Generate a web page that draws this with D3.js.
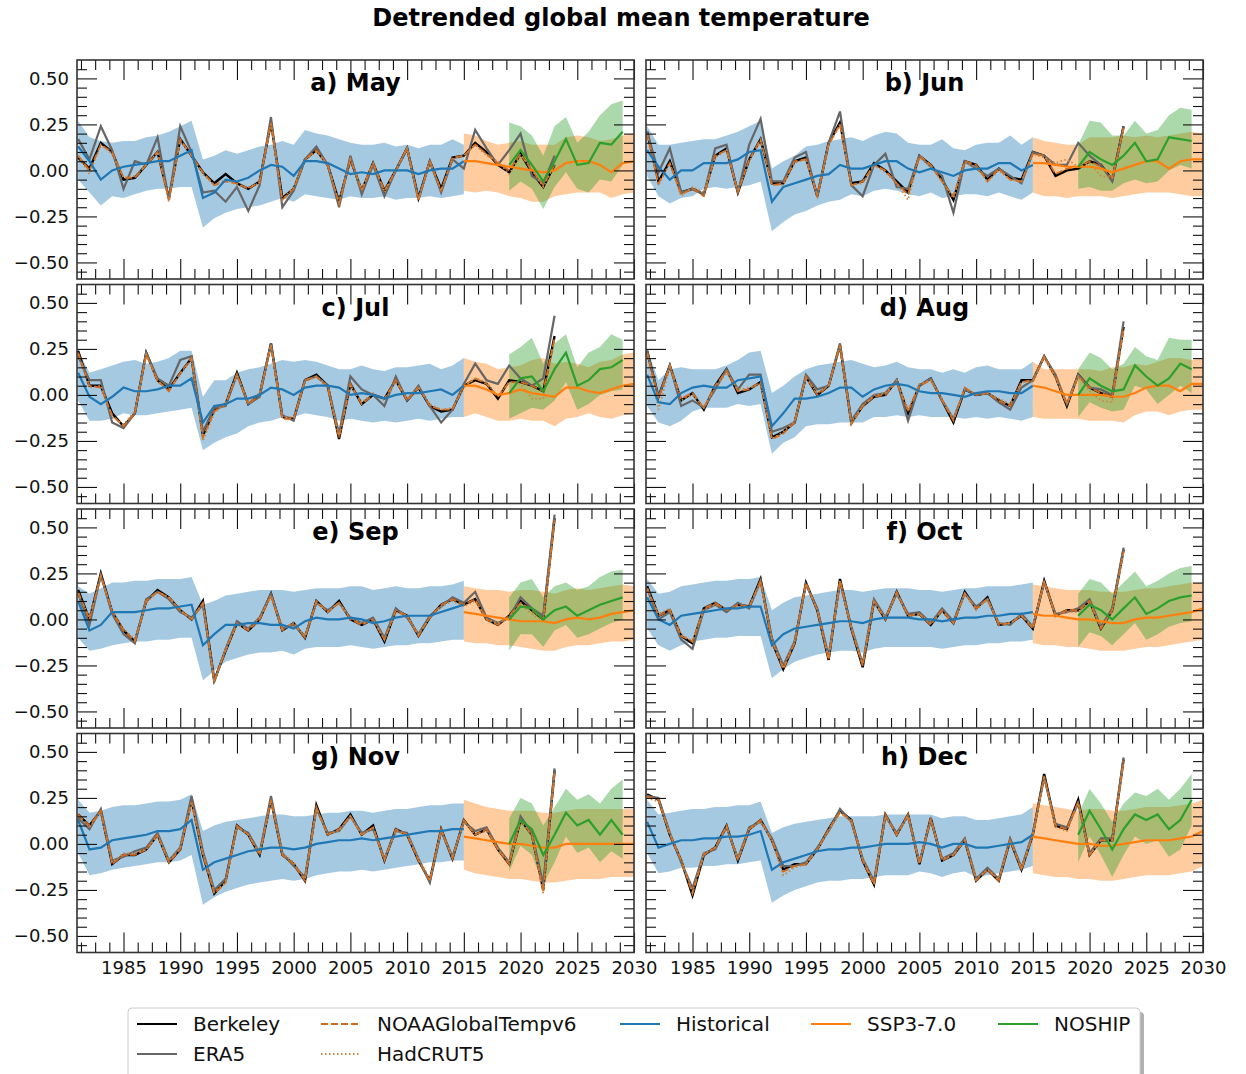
<!DOCTYPE html>
<html>
<head>
<meta charset="utf-8">
<script src="https://cdn.jsdelivr.net/npm/d3@7"></script>
<style>
  body { margin: 0; background: #fff; }
  svg text { font-family: "DejaVu Sans", sans-serif; }
</style>
</head>
<body>
<div id="chart"></div>
<script>
// ---------- data ----------
const panelLabels = ["a) May", "b) Jun", "c) Jul", "d) Aug", "e) Sep", "f) Oct", "g) Nov", "h) Dec"];

const obsYears = d3.range(1981, 2024);      // observations
const histYears = d3.range(1981, 2016);     // historical ensemble
const sspYears = d3.range(2015, 2031);      // SSP3-7.0 ensemble
const noshipYears = d3.range(2019, 2030);   // NOSHIP ensemble

const xMajorTicks = d3.range(1985, 2031, 5);
const yMajorTicks = [-0.5, -0.25, 0, 0.25, 0.5];

const legendLabels = ["Berkeley", "ERA5", "NOAAGlobalTempv6", "HadCRUT5", "Historical", "SSP3-7.0", "NOSHIP"];

const berkeley = [
  [0.07,0.01,0.15,0.10,-0.05,-0.04,0.03,0.10,-0.15,0.17,0.08,-0.01,-0.07,-0.02,-0.07,-0.10,-0.06,0.26,-0.15,-0.10,0.06,0.11,0.03,-0.17,0.06,-0.11,0.04,-0.11,0.00,0.12,-0.15,0.05,-0.10,0.07,0.08,0.15,0.10,0.03,-0.01,0.09,-0.01,-0.09,0.03],
  [0.21,-0.06,0.05,-0.12,-0.10,-0.13,0.08,0.12,-0.12,0.06,0.17,-0.07,-0.07,0.05,0.07,-0.14,0.15,0.26,-0.07,-0.06,0.04,0.00,-0.06,-0.12,0.08,0.03,-0.05,-0.16,0.05,0.03,-0.05,0.01,-0.04,-0.05,0.10,0.08,-0.03,0.00,0.01,0.05,0.03,-0.05,0.24],
  [0.24,0.05,0.05,-0.10,-0.17,-0.10,0.23,0.08,0.03,0.12,0.20,-0.22,-0.08,-0.05,0.12,-0.05,0.00,0.28,-0.12,-0.13,0.08,0.11,0.05,-0.24,0.06,-0.05,0.00,-0.02,0.08,-0.03,0.04,-0.06,-0.09,-0.08,0.05,0.08,0.06,-0.02,0.08,0.07,0.05,0.02,0.32],
  [0.24,-0.01,0.16,-0.03,0.01,-0.08,0.05,0.14,0.01,0.03,0.07,-0.23,-0.20,-0.15,0.10,0.00,0.05,0.27,-0.15,-0.06,-0.01,0.00,0.08,-0.10,0.05,0.09,-0.03,-0.15,0.03,0.00,0.01,-0.03,-0.06,0.08,0.08,0.21,0.10,-0.06,0.11,0.04,0.01,-0.01,0.37],
  [0.16,0.00,0.25,0.04,-0.06,-0.12,0.10,0.16,0.12,0.05,0.00,0.10,-0.33,-0.17,-0.02,-0.06,0.00,0.14,-0.06,-0.02,-0.10,0.10,0.04,0.10,0.00,-0.03,0.00,-0.12,0.05,0.02,-0.09,0.01,0.08,0.11,0.08,0.11,0.00,-0.03,0.02,0.10,0.05,0.00,0.55],
  [0.18,0.02,0.05,-0.09,-0.13,0.06,0.09,0.05,0.08,0.07,0.22,-0.12,-0.27,-0.13,0.20,0.05,-0.22,0.22,-0.05,-0.26,0.10,0.00,0.15,0.02,0.03,-0.03,0.05,-0.02,0.15,0.06,0.12,-0.03,-0.02,0.02,-0.05,0.21,0.02,0.05,0.05,0.10,-0.05,0.05,0.38],
  [0.16,0.10,0.18,-0.11,-0.06,-0.06,-0.03,0.05,-0.10,-0.03,0.24,-0.06,-0.27,-0.20,0.10,0.05,-0.06,0.24,-0.06,-0.11,-0.20,0.21,0.05,0.08,0.16,0.05,0.10,-0.09,0.08,0.05,-0.09,-0.20,0.08,-0.08,0.13,0.05,0.08,-0.03,-0.11,0.13,0.05,-0.25,0.40],
  [0.27,0.24,0.05,-0.09,-0.28,-0.06,-0.02,0.10,-0.09,0.08,0.13,0.02,-0.14,-0.11,-0.11,-0.03,0.08,0.18,0.13,-0.09,-0.22,0.16,0.05,0.16,-0.11,0.14,-0.09,-0.06,0.02,-0.20,-0.14,-0.20,0.02,-0.14,0.05,0.38,0.10,0.08,0.24,-0.06,0.02,0.02,0.46]
];

const era5 = [
  [0.17,0.06,0.24,0.11,-0.10,0.05,0.03,0.18,-0.16,0.24,0.10,-0.12,-0.11,-0.17,-0.09,-0.22,-0.08,0.29,-0.20,-0.11,0.06,0.13,0.03,-0.20,0.08,-0.13,0.03,-0.14,0.00,0.12,-0.16,0.05,-0.12,0.06,0.01,0.22,0.12,0.03,0.11,0.20,-0.03,-0.07,0.08],
  [0.21,-0.01,0.12,-0.12,-0.10,-0.13,0.12,0.14,-0.12,0.14,0.28,-0.06,-0.06,0.07,0.10,-0.14,0.15,0.32,-0.08,-0.14,0.03,0.09,-0.09,-0.10,0.08,0.02,-0.03,-0.23,0.05,0.01,-0.03,0.01,-0.03,-0.07,0.10,0.08,0.03,0.03,0.15,0.08,0.03,-0.06,0.24],
  [0.21,0.08,0.08,-0.15,-0.18,-0.10,0.23,0.09,0.05,0.19,0.21,-0.20,-0.07,-0.06,0.11,-0.05,-0.01,0.28,-0.11,-0.14,0.08,0.10,0.05,-0.21,0.10,0.03,0.00,-0.06,0.10,-0.03,0.05,-0.06,-0.15,-0.08,0.06,0.17,0.08,0.06,0.16,0.09,0.05,0.09,0.43],
  [0.24,-0.01,0.16,-0.06,-0.03,-0.07,0.03,0.14,0.03,0.11,0.11,-0.20,-0.18,-0.15,0.11,0.03,0.05,0.28,-0.14,-0.05,0.00,0.01,0.08,-0.14,0.05,0.09,-0.03,-0.13,0.03,0.00,0.01,-0.04,-0.08,0.04,0.08,0.21,0.11,-0.05,0.11,0.04,0.03,0.00,0.40],
  [0.14,-0.03,0.24,0.03,-0.08,-0.13,0.11,0.15,0.11,0.04,0.01,0.08,-0.34,-0.16,-0.01,-0.05,0.01,0.14,-0.05,-0.03,-0.09,0.09,0.05,0.09,0.01,-0.02,0.01,-0.10,0.06,0.01,-0.08,0.02,0.07,0.12,0.09,0.15,0.01,-0.02,0.01,0.12,0.06,0.02,0.57],
  [0.17,0.00,0.04,-0.11,-0.16,0.05,0.08,0.04,0.09,0.06,0.21,-0.10,-0.25,-0.12,0.19,0.06,-0.20,0.20,-0.04,-0.24,0.11,0.01,0.14,0.03,0.04,-0.02,0.06,-0.01,0.14,0.07,0.11,-0.02,-0.03,0.03,-0.04,0.20,0.03,0.04,0.06,0.11,-0.04,0.06,0.39],
  [0.14,0.08,0.19,-0.09,-0.07,-0.04,-0.02,0.06,-0.09,-0.02,0.26,-0.04,-0.25,-0.19,0.09,0.06,-0.05,0.26,-0.05,-0.12,-0.18,0.19,0.06,0.07,0.15,0.06,0.08,-0.08,0.07,0.06,-0.08,-0.21,0.07,-0.07,0.12,0.07,0.09,-0.02,-0.10,0.15,0.06,-0.22,0.41],
  [0.26,0.25,0.06,-0.10,-0.24,-0.05,-0.03,0.09,-0.08,0.09,0.12,0.03,-0.12,-0.12,-0.10,-0.02,0.07,0.19,0.12,-0.08,-0.20,0.15,0.06,0.15,-0.10,0.13,-0.08,-0.05,0.03,-0.19,-0.13,-0.19,0.03,-0.13,0.06,0.36,0.11,0.09,0.22,-0.05,0.03,0.03,0.47]
];

const noaa = [
  [0.08,0.00,0.14,0.10,-0.04,-0.04,0.03,0.10,-0.16,0.17,0.08,-0.01,-0.08,-0.06,-0.07,-0.10,-0.06,0.26,-0.16,-0.10,0.06,0.11,0.03,-0.18,0.06,-0.11,0.04,-0.11,0.00,0.12,-0.16,0.05,-0.11,0.07,0.08,0.14,0.09,0.04,0.00,0.09,0.00,-0.08,0.03],
  [0.20,-0.07,0.04,-0.13,-0.10,-0.14,0.08,0.11,-0.12,0.06,0.17,-0.08,-0.07,0.05,0.06,-0.14,0.14,0.25,-0.08,-0.06,0.03,0.00,-0.07,-0.13,0.08,0.03,-0.06,-0.14,0.05,0.03,-0.06,0.01,-0.05,-0.06,0.09,0.08,-0.02,0.01,0.02,0.05,0.02,-0.04,0.23],
  [0.23,0.05,0.04,-0.11,-0.17,-0.10,0.22,0.08,0.02,0.12,0.20,-0.23,-0.09,-0.05,0.11,-0.05,0.00,0.27,-0.13,-0.13,0.08,0.10,0.04,-0.23,0.06,-0.05,0.00,-0.02,0.08,-0.03,0.04,-0.06,-0.08,-0.08,0.05,0.09,0.06,-0.01,0.07,0.07,0.05,0.02,0.31],
  [0.23,-0.02,0.16,-0.02,0.01,-0.07,0.05,0.13,0.02,0.03,0.07,-0.24,-0.21,-0.15,0.10,0.00,0.05,0.27,-0.16,-0.06,-0.01,0.00,0.07,-0.09,0.05,0.08,-0.03,-0.14,0.04,0.00,0.01,-0.03,-0.06,0.07,0.08,0.21,0.10,-0.05,0.10,0.04,0.01,-0.01,0.36],
  [0.15,0.00,0.24,0.04,-0.06,-0.12,0.10,0.15,0.12,0.05,0.00,0.09,-0.33,-0.17,-0.02,-0.06,0.00,0.13,-0.06,-0.02,-0.10,0.10,0.04,0.09,0.00,-0.03,0.00,-0.11,0.05,0.02,-0.09,0.01,0.08,0.11,0.08,0.11,0.00,-0.03,0.02,0.09,0.05,0.00,0.54],
  [0.17,0.02,0.05,-0.09,-0.12,0.06,0.09,0.05,0.08,0.07,0.21,-0.12,-0.27,-0.13,0.20,0.05,-0.22,0.21,-0.05,-0.25,0.10,0.00,0.15,0.02,0.03,-0.03,0.05,-0.02,0.14,0.06,0.11,-0.03,-0.02,0.02,-0.05,0.21,0.02,0.05,0.05,0.10,-0.05,0.05,0.37],
  [0.16,0.10,0.18,-0.11,-0.06,-0.06,-0.03,0.05,-0.10,-0.03,0.23,-0.06,-0.27,-0.21,0.10,0.05,-0.06,0.24,-0.06,-0.11,-0.20,0.20,0.05,0.08,0.15,0.05,0.09,-0.09,0.08,0.05,-0.09,-0.20,0.08,-0.08,0.13,0.05,0.08,-0.03,-0.11,0.13,0.05,-0.26,0.39],
  [0.26,0.24,0.05,-0.09,-0.27,-0.06,-0.02,0.10,-0.09,0.08,0.13,0.02,-0.15,-0.12,-0.11,-0.03,0.08,0.17,0.13,-0.09,-0.22,0.16,0.05,0.16,-0.11,0.14,-0.09,-0.06,0.02,-0.20,-0.14,-0.20,0.02,-0.14,0.05,0.37,0.10,0.08,0.23,-0.06,0.02,0.02,0.45]
];

const hadcrut = [
  [0.08,-0.02,0.14,0.09,-0.04,-0.03,0.03,0.10,-0.17,0.16,0.08,-0.02,-0.08,-0.05,-0.08,-0.09,-0.07,0.25,-0.16,-0.09,0.06,0.10,0.03,-0.17,0.06,-0.10,0.04,-0.12,0.00,0.12,-0.16,0.05,-0.11,0.06,0.08,0.14,0.08,0.05,-0.02,0.08,0.01,-0.09,0.03],
  [0.19,-0.08,0.04,-0.14,-0.09,-0.12,0.07,0.11,-0.11,0.05,0.16,-0.08,-0.08,0.04,0.06,-0.13,0.14,0.25,-0.08,-0.07,0.03,-0.01,-0.07,-0.16,0.07,0.02,-0.06,-0.15,0.04,0.02,-0.06,0.00,-0.05,-0.06,0.09,0.07,0.04,0.06,0.02,0.04,-0.03,-0.04,0.22],
  [0.22,0.04,0.05,-0.12,-0.16,-0.09,0.22,0.07,0.03,0.11,0.19,-0.25,-0.10,-0.04,0.11,-0.04,0.01,0.27,-0.12,-0.12,0.07,0.10,0.05,-0.23,0.05,-0.04,0.01,-0.03,0.07,-0.02,0.04,-0.05,-0.08,-0.07,0.04,0.09,0.07,-0.01,0.07,0.06,-0.02,-0.02,0.30],
  [0.22,-0.08,0.15,-0.03,0.00,-0.07,0.04,0.12,0.03,0.04,0.06,-0.24,-0.20,-0.14,0.09,0.01,0.05,0.26,-0.15,-0.06,0.00,0.01,0.08,-0.08,0.06,0.08,-0.02,-0.13,0.03,0.01,0.01,-0.02,-0.05,0.07,0.07,0.20,0.09,-0.05,0.10,0.02,-0.03,-0.04,0.35],
  [0.14,0.01,0.23,0.05,-0.05,-0.11,0.09,0.15,0.12,0.05,0.00,0.09,-0.34,-0.16,-0.03,-0.05,0.01,0.13,-0.05,-0.02,-0.09,0.09,0.04,0.09,0.01,-0.02,0.00,-0.11,0.04,0.02,-0.08,0.01,0.07,0.10,0.07,0.10,0.00,-0.02,0.01,0.08,0.03,-0.01,0.52],
  [0.16,0.03,0.06,-0.08,-0.12,0.05,0.08,0.06,0.07,0.07,0.20,-0.11,-0.26,-0.12,0.19,0.05,-0.21,0.21,-0.04,-0.25,0.09,0.01,0.14,0.02,0.03,-0.02,0.04,-0.02,0.14,0.05,0.11,-0.02,-0.02,0.02,-0.04,0.20,0.02,0.04,0.04,0.09,-0.04,0.04,0.36],
  [0.15,0.09,0.17,-0.10,-0.05,-0.05,-0.03,0.04,-0.09,-0.02,0.22,-0.05,-0.26,-0.21,0.09,0.05,-0.05,0.23,-0.05,-0.10,-0.19,0.19,0.05,0.07,0.15,0.05,0.09,-0.08,0.07,0.05,-0.08,-0.19,0.07,-0.07,0.12,0.05,0.07,-0.03,-0.10,0.12,0.05,-0.27,0.38],
  [0.25,0.23,0.06,-0.08,-0.26,-0.05,-0.02,0.09,-0.08,0.08,0.12,0.02,-0.17,-0.13,-0.11,-0.03,0.07,0.17,0.12,-0.08,-0.21,0.15,0.05,0.15,-0.10,0.13,-0.08,-0.06,0.02,-0.19,-0.14,-0.19,0.02,-0.13,0.05,0.36,0.09,0.07,0.22,-0.06,0.02,0.02,0.44]
];

const histMean = [
  [0.13,0.05,-0.05,0.00,0.02,0.03,0.04,0.05,0.05,0.08,0.11,-0.15,-0.12,-0.05,-0.06,-0.04,0.00,0.03,0.02,-0.03,0.05,0.05,0.04,0.01,-0.02,-0.01,-0.02,0.00,0.00,0.00,-0.02,0.00,0.01,0.01,0.05],
  [0.11,0.02,-0.05,0.00,0.00,0.04,0.04,0.04,0.06,0.10,0.11,-0.17,-0.09,-0.07,-0.05,-0.03,-0.02,0.03,0.01,0.01,0.03,0.05,0.05,0.01,-0.01,0.01,-0.01,-0.03,0.00,0.01,0.01,0.04,0.04,0.00,0.03],
  [0.12,-0.01,-0.05,-0.01,0.04,0.02,0.02,0.03,0.05,0.05,0.09,-0.15,-0.06,-0.05,-0.02,-0.02,0.00,0.04,0.03,0.00,0.04,0.05,0.05,0.04,0.00,0.01,0.00,-0.02,0.00,0.01,0.01,0.02,0.03,0.00,0.05],
  [0.11,-0.04,-0.05,0.01,0.04,0.05,0.04,0.04,0.08,0.09,0.10,-0.17,-0.10,-0.02,-0.02,-0.01,0.01,0.04,0.04,-0.01,0.03,0.05,0.06,0.05,0.02,0.01,0.01,0.00,-0.01,0.01,0.02,0.02,0.01,0.01,0.05],
  [0.10,-0.06,-0.03,0.04,0.04,0.04,0.05,0.06,0.06,0.07,0.08,-0.14,-0.08,-0.03,-0.03,-0.02,-0.02,-0.03,-0.03,-0.05,-0.01,0.01,0.00,0.00,0.01,0.00,-0.02,-0.01,0.01,0.02,0.02,0.02,0.04,0.06,0.08],
  [0.12,0.00,-0.03,0.02,0.03,0.04,0.05,0.06,0.06,0.07,0.07,-0.14,-0.08,-0.05,-0.04,-0.03,-0.02,-0.01,-0.01,-0.02,0.00,0.01,0.01,0.01,0.00,0.00,-0.01,0.00,0.01,0.01,0.02,0.02,0.03,0.03,0.04],
  [0.13,-0.03,-0.02,0.02,0.03,0.04,0.05,0.07,0.07,0.08,0.13,-0.14,-0.10,-0.08,-0.06,-0.04,-0.03,-0.02,-0.02,-0.03,-0.02,0.00,0.01,0.02,0.02,0.03,0.02,0.03,0.04,0.05,0.06,0.07,0.07,0.08,0.08],
  [0.12,-0.02,0.00,0.02,0.02,0.03,0.03,0.04,0.04,0.05,0.07,-0.14,-0.10,-0.08,-0.06,-0.04,-0.03,-0.03,-0.02,-0.02,-0.01,0.00,0.00,0.00,0.01,0.00,-0.02,0.00,0.00,-0.02,-0.02,-0.01,0.00,0.01,0.05]
];
const histHigh = [
  [0.27,0.18,0.16,0.15,0.16,0.16,0.18,0.19,0.21,0.24,0.27,0.06,0.08,0.11,0.09,0.11,0.13,0.14,0.16,0.14,0.22,0.20,0.19,0.17,0.15,0.14,0.14,0.15,0.13,0.14,0.12,0.14,0.14,0.17,0.14],
  [0.24,0.14,0.14,0.15,0.16,0.17,0.17,0.19,0.21,0.24,0.27,0.01,0.05,0.08,0.13,0.14,0.16,0.17,0.18,0.16,0.19,0.21,0.20,0.15,0.14,0.14,0.17,0.12,0.11,0.14,0.15,0.15,0.19,0.14,0.18],
  [0.24,0.12,0.14,0.16,0.18,0.19,0.17,0.18,0.20,0.24,0.24,-0.01,0.08,0.08,0.12,0.14,0.15,0.17,0.19,0.18,0.19,0.18,0.16,0.14,0.14,0.16,0.14,0.13,0.15,0.15,0.16,0.17,0.14,0.16,0.20],
  [0.25,0.08,0.14,0.15,0.14,0.14,0.14,0.16,0.19,0.23,0.24,0.01,0.05,0.10,0.14,0.16,0.17,0.18,0.19,0.17,0.15,0.16,0.18,0.15,0.14,0.14,0.12,0.14,0.12,0.15,0.16,0.14,0.14,0.14,0.18],
  [0.18,0.14,0.17,0.20,0.20,0.21,0.21,0.22,0.22,0.22,0.23,0.08,0.10,0.13,0.14,0.15,0.16,0.16,0.16,0.15,0.16,0.17,0.17,0.17,0.18,0.18,0.16,0.17,0.18,0.17,0.17,0.18,0.18,0.19,0.21],
  [0.22,0.14,0.15,0.18,0.19,0.20,0.21,0.21,0.22,0.22,0.23,0.05,0.09,0.12,0.13,0.14,0.15,0.16,0.16,0.15,0.16,0.17,0.17,0.17,0.16,0.16,0.15,0.16,0.17,0.17,0.18,0.18,0.18,0.19,0.20],
  [0.24,0.17,0.18,0.20,0.21,0.21,0.22,0.23,0.23,0.24,0.27,0.07,0.10,0.12,0.13,0.14,0.15,0.16,0.16,0.15,0.15,0.16,0.17,0.17,0.18,0.18,0.17,0.18,0.19,0.19,0.20,0.21,0.21,0.22,0.22],
  [0.24,0.16,0.17,0.18,0.19,0.19,0.20,0.20,0.21,0.21,0.23,0.06,0.09,0.11,0.12,0.13,0.14,0.15,0.15,0.15,0.15,0.16,0.16,0.16,0.16,0.16,0.14,0.15,0.15,0.13,0.13,0.14,0.15,0.16,0.20]
];
const histLow = [
  [-0.05,-0.12,-0.19,-0.14,-0.15,-0.13,-0.11,-0.10,-0.10,-0.09,-0.09,-0.31,-0.26,-0.23,-0.21,-0.20,-0.19,-0.17,-0.15,-0.17,-0.13,-0.14,-0.15,-0.16,-0.14,-0.15,-0.15,-0.14,-0.16,-0.15,-0.15,-0.14,-0.15,-0.14,-0.13],
  [-0.03,-0.14,-0.18,-0.15,-0.14,-0.10,-0.09,-0.10,-0.09,-0.08,-0.06,-0.33,-0.28,-0.24,-0.22,-0.19,-0.17,-0.16,-0.13,-0.14,-0.11,-0.10,-0.11,-0.13,-0.14,-0.12,-0.15,-0.14,-0.13,-0.13,-0.14,-0.12,-0.14,-0.16,-0.12],
  [-0.03,-0.14,-0.14,-0.13,-0.10,-0.11,-0.11,-0.10,-0.09,-0.08,-0.07,-0.30,-0.26,-0.23,-0.21,-0.17,-0.15,-0.14,-0.12,-0.12,-0.10,-0.11,-0.12,-0.14,-0.13,-0.14,-0.15,-0.14,-0.15,-0.14,-0.13,-0.14,-0.13,-0.12,-0.12],
  [-0.06,-0.15,-0.17,-0.14,-0.09,-0.07,-0.07,-0.07,-0.05,-0.06,-0.05,-0.32,-0.26,-0.23,-0.17,-0.16,-0.16,-0.15,-0.15,-0.15,-0.12,-0.12,-0.11,-0.12,-0.11,-0.12,-0.12,-0.12,-0.13,-0.12,-0.13,-0.12,-0.13,-0.14,-0.12],
  [-0.10,-0.17,-0.16,-0.14,-0.13,-0.12,-0.12,-0.11,-0.11,-0.10,-0.10,-0.33,-0.28,-0.23,-0.21,-0.19,-0.18,-0.18,-0.17,-0.19,-0.16,-0.15,-0.15,-0.15,-0.14,-0.15,-0.16,-0.15,-0.14,-0.14,-0.13,-0.13,-0.12,-0.11,-0.11],
  [-0.05,-0.14,-0.17,-0.14,-0.12,-0.11,-0.10,-0.10,-0.09,-0.09,-0.09,-0.32,-0.27,-0.23,-0.21,-0.19,-0.18,-0.17,-0.17,-0.18,-0.16,-0.15,-0.15,-0.15,-0.15,-0.15,-0.16,-0.15,-0.14,-0.14,-0.13,-0.13,-0.12,-0.12,-0.11],
  [-0.05,-0.17,-0.16,-0.14,-0.13,-0.12,-0.11,-0.10,-0.10,-0.09,-0.06,-0.33,-0.29,-0.26,-0.24,-0.22,-0.21,-0.20,-0.19,-0.20,-0.19,-0.17,-0.16,-0.15,-0.15,-0.14,-0.15,-0.14,-0.13,-0.12,-0.11,-0.10,-0.10,-0.09,-0.09],
  [-0.05,-0.16,-0.15,-0.13,-0.13,-0.12,-0.12,-0.11,-0.11,-0.10,-0.09,-0.32,-0.28,-0.25,-0.23,-0.21,-0.20,-0.20,-0.19,-0.19,-0.18,-0.17,-0.17,-0.17,-0.15,-0.16,-0.18,-0.16,-0.15,-0.18,-0.17,-0.16,-0.15,-0.14,-0.12]
];

const sspMean = [
  [0.05,0.05,0.04,0.03,0.02,0.01,0.00,-0.01,0.00,0.04,0.05,0.05,0.03,-0.01,0.04,0.05],
  [0.04,0.04,0.03,0.02,0.02,0.02,0.01,-0.01,0.01,0.03,0.05,0.05,0.01,0.05,0.06,0.06],
  [0.05,0.05,0.03,0.00,0.01,0.03,0.01,0.00,-0.01,0.04,0.04,0.02,0.01,0.03,0.05,0.06],
  [0.05,0.04,0.02,0.00,0.00,0.00,0.00,-0.01,-0.01,0.01,0.04,0.05,0.05,0.02,0.06,0.06],
  [0.04,0.03,0.02,0.01,0.00,-0.01,-0.01,-0.01,-0.02,0.00,0.01,0.00,0.01,0.03,0.04,0.05],
  [0.03,0.02,0.02,0.01,0.00,0.00,-0.01,-0.02,-0.02,0.00,0.01,0.01,0.02,0.03,0.04,0.06],
  [0.04,0.03,0.02,0.01,0.00,0.00,-0.01,-0.02,-0.02,0.00,0.00,0.00,0.00,0.00,0.00,0.00],
  [0.04,0.03,0.02,0.01,0.00,0.00,-0.01,-0.01,0.00,0.01,0.02,0.02,0.02,0.03,0.04,0.07]
];
const sspHigh = [
  [0.20,0.19,0.16,0.14,0.15,0.16,0.14,0.14,0.14,0.18,0.19,0.18,0.16,0.17,0.19,0.20],
  [0.18,0.16,0.15,0.14,0.14,0.18,0.18,0.18,0.19,0.18,0.19,0.18,0.19,0.20,0.21,0.20],
  [0.20,0.18,0.17,0.14,0.15,0.16,0.19,0.20,0.17,0.18,0.17,0.15,0.18,0.19,0.22,0.23],
  [0.18,0.14,0.14,0.14,0.14,0.14,0.13,0.15,0.15,0.17,0.16,0.18,0.20,0.20,0.19,0.20],
  [0.18,0.17,0.16,0.16,0.15,0.16,0.16,0.15,0.14,0.16,0.17,0.16,0.17,0.18,0.19,0.18],
  [0.19,0.18,0.17,0.16,0.16,0.16,0.15,0.15,0.15,0.16,0.17,0.17,0.18,0.19,0.20,0.20],
  [0.24,0.22,0.20,0.19,0.18,0.18,0.18,0.17,0.17,0.18,0.19,0.19,0.19,0.19,0.19,0.19],
  [0.22,0.21,0.20,0.19,0.18,0.19,0.19,0.18,0.18,0.19,0.20,0.20,0.20,0.21,0.22,0.24]
];
const sspLow = [
  [-0.11,-0.12,-0.11,-0.12,-0.14,-0.15,-0.17,-0.17,-0.14,-0.13,-0.12,-0.12,-0.12,-0.15,-0.13,-0.12],
  [-0.12,-0.14,-0.14,-0.15,-0.14,-0.14,-0.14,-0.15,-0.14,-0.13,-0.12,-0.12,-0.12,-0.13,-0.14,-0.14],
  [-0.12,-0.10,-0.12,-0.14,-0.14,-0.13,-0.14,-0.14,-0.17,-0.13,-0.12,-0.10,-0.12,-0.13,-0.11,-0.10],
  [-0.12,-0.13,-0.13,-0.13,-0.13,-0.14,-0.14,-0.14,-0.15,-0.11,-0.09,-0.09,-0.11,-0.09,-0.08,-0.08],
  [-0.12,-0.13,-0.13,-0.14,-0.14,-0.15,-0.16,-0.17,-0.17,-0.15,-0.14,-0.14,-0.13,-0.12,-0.12,-0.11],
  [-0.13,-0.14,-0.14,-0.15,-0.15,-0.16,-0.17,-0.17,-0.17,-0.16,-0.15,-0.15,-0.14,-0.13,-0.12,-0.11],
  [-0.14,-0.16,-0.17,-0.18,-0.19,-0.19,-0.20,-0.21,-0.21,-0.20,-0.19,-0.19,-0.19,-0.18,-0.18,-0.18],
  [-0.16,-0.17,-0.18,-0.18,-0.19,-0.19,-0.20,-0.20,-0.19,-0.18,-0.17,-0.17,-0.17,-0.16,-0.15,-0.12]
];

const noshipMean = [
  [0.03,0.11,0.03,-0.06,0.05,0.17,0.03,0.04,0.15,0.14,0.21],
  [0.02,0.10,0.06,0.03,0.08,0.15,0.05,0.06,0.18,0.17,0.16],
  [0.01,0.09,0.10,0.02,0.14,0.23,0.05,0.08,0.14,0.15,0.19],
  [0.00,0.09,0.05,0.02,0.03,0.16,0.10,0.05,0.09,0.17,0.14],
  [0.00,0.07,0.06,0.00,0.05,0.07,0.02,0.05,0.08,0.10,0.12],
  [0.02,0.08,0.05,0.00,0.06,0.12,0.03,0.06,0.10,0.12,0.13],
  [0.00,0.13,0.08,-0.06,0.05,0.17,0.10,0.13,0.05,0.13,0.05],
  [0.05,0.18,0.08,-0.03,0.08,0.16,0.13,0.16,0.08,0.13,0.24]
];
const noshipHigh = [
  [0.26,0.24,0.19,0.08,0.24,0.29,0.15,0.21,0.30,0.36,0.38],
  [0.14,0.27,0.26,0.19,0.19,0.27,0.20,0.22,0.30,0.34,0.33],
  [0.22,0.26,0.31,0.17,0.28,0.33,0.15,0.23,0.26,0.33,0.30],
  [0.14,0.23,0.20,0.14,0.17,0.26,0.21,0.19,0.31,0.30,0.30],
  [0.12,0.20,0.22,0.12,0.18,0.20,0.16,0.18,0.23,0.26,0.27],
  [0.14,0.22,0.20,0.14,0.20,0.26,0.18,0.21,0.25,0.28,0.29],
  [0.14,0.25,0.22,0.10,0.20,0.30,0.24,0.27,0.22,0.30,0.35],
  [0.16,0.30,0.22,0.12,0.22,0.28,0.26,0.30,0.24,0.30,0.38]
];
const noshipLow = [
  [-0.11,-0.06,-0.10,-0.21,-0.09,-0.01,-0.10,-0.12,-0.05,-0.06,0.03],
  [-0.10,-0.09,-0.11,-0.11,-0.07,-0.05,-0.07,-0.06,0.00,0.03,0.01],
  [-0.13,-0.10,-0.07,-0.08,-0.03,0.07,-0.08,-0.05,0.00,0.02,0.03],
  [-0.12,-0.04,-0.07,-0.09,-0.08,0.05,0.03,-0.05,0.00,0.05,0.01],
  [-0.17,-0.08,-0.08,-0.15,-0.06,-0.03,-0.10,-0.08,-0.05,-0.02,0.00],
  [-0.15,-0.07,-0.09,-0.14,-0.08,-0.02,-0.11,-0.08,-0.04,-0.02,-0.01],
  [-0.15,-0.01,-0.06,-0.22,-0.10,0.04,-0.05,-0.02,-0.10,-0.04,-0.08],
  [-0.10,0.04,-0.06,-0.18,-0.06,0.04,0.00,0.02,-0.07,-0.03,0.10]
];

// ---------- layout & styles ----------
const W = 1246, H = 1074;
const colX = [77, 646];
const rowY = [60, 284.5, 509, 733.5];
const plotW = 557, plotH = 219;

const obsStyle = [
  { data: berkeley, color: "#000000", dash: null, width: 2.4 },
  { data: era5, color: "#666666", dash: null, width: 2.2 },
  { data: noaa, color: "#d2691e", dash: "7,3", width: 1.8 },
  { data: hadcrut, color: "#cd853f", dash: "1.5,2.5", width: 1.8 }
];
const modelStyle = [
  { years: histYears, mean: histMean, high: histHigh, low: histLow, color: "#1f77b4" },
  { years: sspYears, mean: sspMean, high: sspHigh, low: sspLow, color: "#ff7f0e" },
  { years: noshipYears, mean: noshipMean, high: noshipHigh, low: noshipLow, color: "#2ca02c" }
];

const x = d3.scaleLinear().domain([1980.9, 2030]).range([0, plotW]);
const y = d3.scaleLinear().domain([-0.59, 0.6]).range([plotH, 0]);

const xMinorTicks = d3.range(1980, 2030.01, 1.25).filter(v => v % 5 !== 0 && v > 1980.9);
const yMinorTicks = d3.range(-0.55, 0.56, 0.05).map(v => +v.toFixed(2)).filter(v => Math.abs(v * 4 - Math.round(v * 4)) > 1e-6);

const svg = d3.select("#chart").append("svg")
  .attr("width", W)
  .attr("height", H);

svg.append("rect").attr("width", W).attr("height", H).attr("fill", "#fff");

svg.append("text")
  .attr("x", 621).attr("y", 26)
  .attr("text-anchor", "middle")
  .attr("font-weight", "bold")
  .attr("font-size", 24)
  .text("Detrended global mean temperature");

const lineGen = (years) => d3.line()
  .x((d, i) => x(years[i]))
  .y(d => y(d));

panelLabels.forEach((label, p) => {
  const row = Math.floor(p / 2), col = p % 2;
  const g = svg.append("g").attr("transform", `translate(${colX[col]},${rowY[row]})`);

  g.append("clipPath").attr("id", "clip" + p)
    .append("rect").attr("width", plotW).attr("height", plotH);
  const plot = g.append("g").attr("clip-path", `url(#clip${p})`);

  // ensemble spread bands
  modelStyle.forEach(m => {
    const band = d3.area()
      .x((d, i) => x(m.years[i]))
      .y0((d, i) => y(m.low[p][i]))
      .y1(d => y(d));
    plot.append("path")
      .datum(m.high[p])
      .attr("d", band)
      .attr("fill", m.color)
      .attr("fill-opacity", 0.4);
  });

  // observations
  obsStyle.forEach(s => {
    plot.append("path")
      .datum(s.data[p])
      .attr("d", lineGen(obsYears))
      .attr("fill", "none")
      .attr("stroke", s.color)
      .attr("stroke-width", s.width)
      .attr("stroke-dasharray", s.dash);
  });

  // ensemble means
  modelStyle.forEach(m => {
    plot.append("path")
      .datum(m.mean[p])
      .attr("d", lineGen(m.years))
      .attr("fill", "none")
      .attr("stroke", m.color)
      .attr("stroke-width", 2.2);
  });

  // axes: majors 20px inward, minors 10px inward, on all four sides
  const fmtY = d3.format(".2f");
  const axes = [
    g.append("g").attr("transform", `translate(0,${plotH})`)
      .call(d3.axisBottom(x).tickValues(xMajorTicks).tickSizeInner(-20).tickSizeOuter(0).tickPadding(9)
        .tickFormat(row === 3 ? d3.format("d") : "")),
    g.append("g").attr("transform", `translate(0,${plotH})`)
      .call(d3.axisBottom(x).tickValues(xMinorTicks).tickSize(-10).tickFormat("")),
    g.append("g")
      .call(d3.axisTop(x).tickValues(xMajorTicks).tickSize(-20).tickFormat("")),
    g.append("g")
      .call(d3.axisTop(x).tickValues(xMinorTicks).tickSize(-10).tickFormat("")),
    g.append("g")
      .call(d3.axisLeft(y).tickValues(yMajorTicks).tickSizeInner(-20).tickSizeOuter(0).tickPadding(8)
        .tickFormat(col === 0 ? fmtY : "")),
    g.append("g")
      .call(d3.axisLeft(y).tickValues(yMinorTicks).tickSize(-10).tickFormat("")),
    g.append("g").attr("transform", `translate(${plotW},0)`)
      .call(d3.axisRight(y).tickValues(yMajorTicks).tickSize(-20).tickFormat("")),
    g.append("g").attr("transform", `translate(${plotW},0)`)
      .call(d3.axisRight(y).tickValues(yMinorTicks).tickSize(-10).tickFormat(""))
  ];
  axes.forEach(a => {
    a.select(".domain").remove();
    a.selectAll("line").attr("stroke", "#111").attr("stroke-width", 1.1);
    a.selectAll("text").attr("font-size", 18).attr("font-family", "DejaVu Sans").attr("fill", "#111");
  });

  g.append("rect")
    .attr("width", plotW).attr("height", plotH)
    .attr("fill", "none").attr("stroke", "#333").attr("stroke-width", 1.6);

  g.append("text")
    .attr("x", plotW / 2).attr("y", 31)
    .attr("text-anchor", "middle")
    .attr("font-weight", "bold")
    .attr("font-size", 24)
    .text(label);
});

// ---------- legend ----------
const legend = svg.append("g");
legend.append("rect")
  .attr("x", 132).attr("y", 1012).attr("width", 1012).attr("height", 80)
  .attr("rx", 4).attr("fill", "#b0b0b0");
legend.append("rect")
  .attr("x", 128).attr("y", 1008).attr("width", 1012).attr("height", 80)
  .attr("rx", 4).attr("fill", "#fff").attr("stroke", "#cccccc").attr("stroke-width", 1);

const legendStyle = [
  { color: "#000000", dash: null }, { color: "#666666", dash: null },
  { color: "#d2691e", dash: "7,3" }, { color: "#cd853f", dash: "1.5,2.5" },
  { color: "#1f77b4", dash: null }, { color: "#ff7f0e", dash: null }, { color: "#2ca02c", dash: null }
];
const legendCol = [0, 0, 1, 1, 2, 3, 4];
const legendRow = [0, 1, 0, 1, 0, 0, 0];
const colStart = [137, 321, 620, 811, 998];

legendLabels.forEach((name, i) => {
  const lx = colStart[legendCol[i]];
  const ly = 1024 + legendRow[i] * 30;
  legend.append("line")
    .attr("x1", lx).attr("x2", lx + 40)
    .attr("y1", ly).attr("y2", ly)
    .attr("stroke", legendStyle[i].color)
    .attr("stroke-width", 2.2)
    .attr("stroke-dasharray", legendStyle[i].dash);
  legend.append("text")
    .attr("x", lx + 56).attr("y", ly)
    .attr("dy", "0.36em")
    .attr("font-size", 20)
    .attr("fill", "#111")
    .text(name);
});
</script>
</body>
</html>
